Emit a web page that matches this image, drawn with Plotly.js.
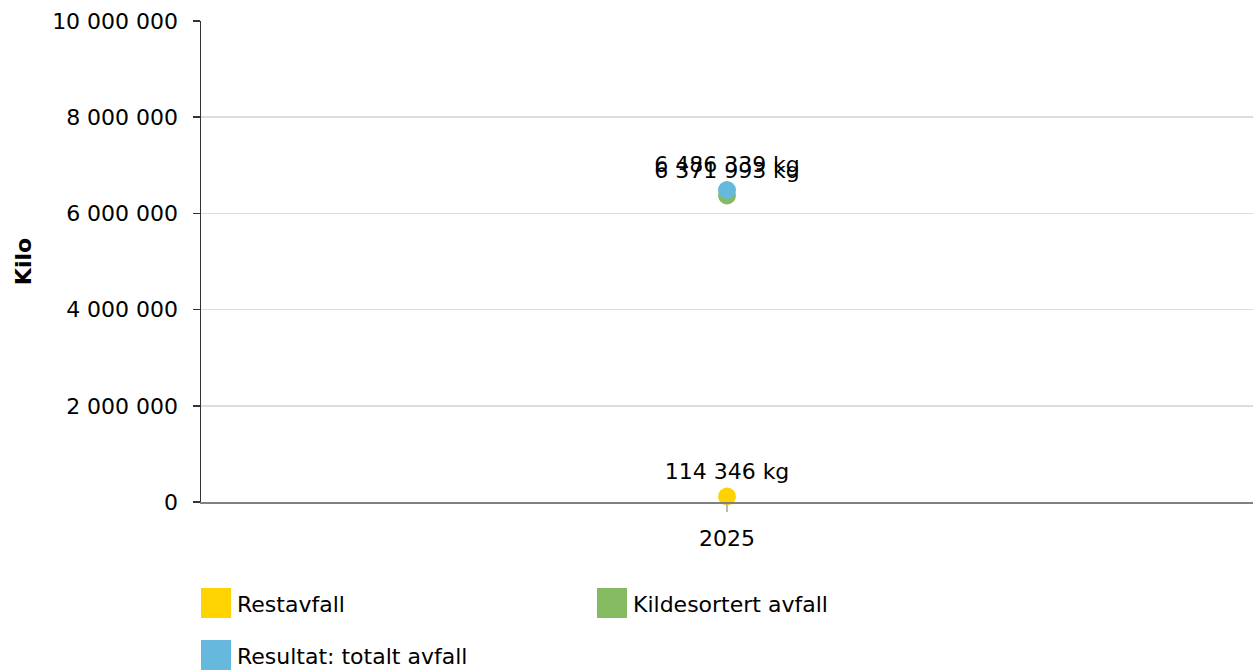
<!DOCTYPE html>
<html>
<head>
<meta charset="utf-8">
<script src="https://cdn.plot.ly/plotly-3.0.1.min.js"></script>
<style>html,body{margin:0;padding:0;background:#fff;}#chart{width:1255px;height:670px;}</style>
</head>
<body>
<div id="chart"></div>
<script>
const categories = ["2025"];
const seriesNames = ["Restavfall", "Kildesortert avfall", "Resultat: totalt avfall"];
const restavfall = [114346];
const kildesortert = [6371993];
const totalt = [6486339];
const colors = ["#FFD300", "#85BA63", "#67B8DD"];
const yTickVals = [0, 2000000, 4000000, 6000000, 8000000, 10000000];

function fmt(v) {
  return String(Math.round(v)).replace(/\B(?=(\d{3})+(?!\d))/g, " ");
}

const FONT = "DejaVu Sans, Verdana, sans-serif";
const FS = 22;

const seriesData = [restavfall, kildesortert, totalt];
const traces = seriesData.map((vals, i) => ({
  type: "scatter",
  mode: "markers+text",
  name: seriesNames[i],
  x: categories,
  y: vals,
  text: vals.map(v => fmt(v) + " kg"),
  textposition: "top center",
  textfont: {family: FONT, size: FS, color: "#000"},
  marker: {color: colors[i], size: 18},
  cliponaxis: false,
  showlegend: false
}));

const W = 1255, H = 670, L = 201, R = 2, T = 21, B = 168;
const pw = W - L - R, ph = H - T - B;
function px2x(p) { return (p - L) / pw; }
function py2y(p) { return (H - B - p) / ph; }

const legendItems = [
  {name: seriesNames[0], color: colors[0], x: 201, y: 588},
  {name: seriesNames[1], color: colors[1], x: 597, y: 588},
  {name: seriesNames[2], color: colors[2], x: 201, y: 640}
];
const shapes = legendItems.map(it => ({
  type: "rect", xref: "paper", yref: "paper",
  x0: px2x(it.x), x1: px2x(it.x + 30), y0: py2y(it.y + 30), y1: py2y(it.y),
  fillcolor: it.color, line: {width: 0}
}));
const annotations = legendItems.map(it => ({
  xref: "paper", yref: "paper", x: px2x(it.x + 34), y: py2y(it.y + 16),
  xanchor: "left", yanchor: "middle", showarrow: false,
  text: it.name, font: {family: FONT, size: FS, color: "#000"}
}));

const layout = {
  width: W, height: H,
  margin: {l: L, r: R, t: T, b: B},
  paper_bgcolor: "#fff", plot_bgcolor: "#fff",
  font: {family: FONT, size: FS, color: "#000"},
  separators: ", ",
  showlegend: false,
  xaxis: {
    type: "category",
    showgrid: false,
    showline: true, linecolor: "#808080", linewidth: 1.5,
    ticks: "outside", ticklen: 8, tickcolor: "#bbbbbb", tickwidth: 1.5,
    ticklabelstandoff: 8,
    tickfont: {family: FONT, size: FS, color: "#000"},
    zeroline: false, fixedrange: true
  },
  yaxis: {
    range: [0, 10000000],
    tickvals: yTickVals,
    ticktext: yTickVals.map(fmt),
    showgrid: true, gridcolor: "#dddddd", gridwidth: 1.5,
    showline: true, linecolor: "#333333", linewidth: 1.5,
    ticks: "outside", ticklen: 7, tickcolor: "#333333", tickwidth: 1.5,
    ticklabelstandoff: 10,
    tickfont: {family: FONT, size: FS, color: "#000"},
    zeroline: false,
    title: {text: "<b>Kilo</b>", font: {family: FONT, size: FS, color: "#000"}, standoff: 14}
  },
  shapes: shapes,
  annotations: annotations
};

Plotly.newPlot("chart", traces, layout, {displayModeBar: false, staticPlot: true});
</script>
</body>
</html>
